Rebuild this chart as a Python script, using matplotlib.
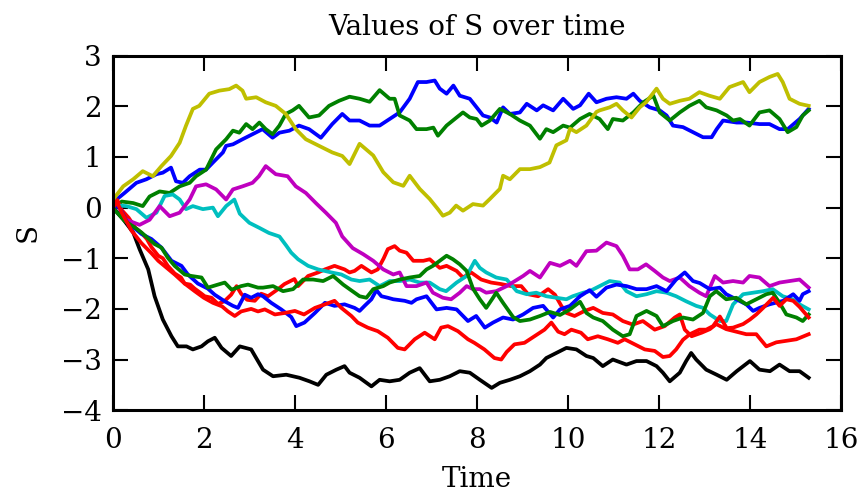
import matplotlib
matplotlib.use("Agg")
import matplotlib.pyplot as plt

# ---- data (time, S) per path ----
blue1_t = [0.0, 0.26, 0.52, 0.74, 0.96, 1.1, 1.28, 1.39, 1.54, 1.69, 1.91, 2.05, 2.2, 2.42, 2.49, 2.64, 2.85, 3.07, 3.29, 3.51, 3.66, 3.88, 4.09, 4.31, 4.57, 4.82, 5.04, 5.2, 5.42, 5.64, 5.86, 6.08, 6.3, 6.52, 6.7, 6.89, 7.07, 7.18, 7.33, 7.48, 7.62, 7.84, 7.99, 8.13, 8.28, 8.43, 8.57, 8.72, 8.94, 9.09, 9.31, 9.45, 9.67, 9.89, 10.11, 10.26, 10.45, 10.62, 10.84, 11.06, 11.28, 11.43, 11.57, 11.79, 12.01, 12.16, 12.3, 12.52, 12.74, 12.96, 13.15, 13.26, 13.4, 13.7, 13.92, 14.2, 14.42, 14.64, 14.82, 15.08, 15.28]
blue1_s = [0.1, 0.29, 0.49, 0.56, 0.66, 0.69, 0.79, 0.52, 0.49, 0.62, 0.75, 0.75, 0.89, 1.09, 1.22, 1.25, 1.35, 1.45, 1.55, 1.38, 1.48, 1.52, 1.62, 1.55, 1.38, 1.65, 1.85, 1.72, 1.72, 1.62, 1.62, 1.75, 1.88, 2.15, 2.48, 2.48, 2.51, 2.35, 2.25, 2.41, 2.21, 2.15, 1.98, 1.82, 1.78, 1.68, 1.98, 1.85, 1.88, 2.05, 1.92, 2.02, 1.92, 2.15, 1.95, 2.02, 2.25, 2.08, 2.15, 2.18, 2.15, 2.25, 2.11, 1.98, 1.92, 1.82, 1.62, 1.59, 1.49, 1.39, 1.39, 1.55, 1.72, 1.68, 1.68, 1.65, 1.65, 1.55, 1.55, 1.75, 1.95]

green1_t = [0.0, 0.2, 0.45, 0.66, 0.81, 1.03, 1.25, 1.47, 1.69, 1.83, 2.05, 2.27, 2.49, 2.64, 2.78, 2.93, 3.07, 3.22, 3.36, 3.51, 3.66, 3.8, 3.95, 4.09, 4.31, 4.53, 4.75, 4.97, 5.2, 5.42, 5.64, 5.86, 6.08, 6.19, 6.3, 6.52, 6.67, 6.89, 7.04, 7.14, 7.33, 7.55, 7.69, 7.84, 7.99, 8.1, 8.28, 8.5, 8.72, 8.94, 9.16, 9.38, 9.52, 9.67, 9.89, 10.04, 10.26, 10.47, 10.69, 10.87, 10.98, 11.2, 11.43, 11.65, 11.87, 12.01, 12.23, 12.45, 12.66, 12.88, 13.03, 13.26, 13.48, 13.62, 13.77, 13.98, 14.2, 14.42, 14.64, 14.82, 15.01, 15.15, 15.28]
green1_s = [0.0, 0.12, 0.09, 0.03, 0.22, 0.32, 0.29, 0.42, 0.49, 0.62, 0.75, 1.15, 1.35, 1.52, 1.48, 1.65, 1.55, 1.68, 1.55, 1.45, 1.62, 1.85, 1.92, 2.01, 1.78, 1.82, 2.01, 2.11, 2.19, 2.15, 2.09, 2.32, 2.15, 2.15, 1.82, 1.72, 1.55, 1.55, 1.58, 1.42, 1.62, 1.78, 1.88, 1.78, 1.75, 1.62, 1.72, 1.95, 1.85, 1.72, 1.62, 1.36, 1.55, 1.49, 1.62, 1.58, 1.75, 1.85, 1.75, 1.55, 1.75, 1.72, 1.88, 2.08, 2.21, 1.88, 1.72, 1.88, 2.01, 2.11, 1.98, 1.92, 1.82, 1.72, 1.75, 1.62, 1.88, 1.92, 1.75, 1.49, 1.59, 1.82, 1.92]

red1_t = [0.0, 0.1, 0.2, 0.35, 0.5, 0.63, 0.75, 0.85, 1.0, 1.1, 1.21, 1.36, 1.5, 1.58, 1.7, 1.8, 1.95, 2.02, 2.17, 2.31, 2.45, 2.6, 2.72, 2.82, 2.95, 3.12, 3.26, 3.41, 3.63, 3.77, 3.99, 4.07, 4.29, 4.51, 4.66, 4.87, 5.09, 5.2, 5.31, 5.46, 5.68, 5.82, 5.95, 6.04, 6.19, 6.3, 6.45, 6.6, 6.82, 6.96, 7.18, 7.33, 7.55, 7.69, 7.87, 8.09, 8.31, 8.53, 8.75, 8.97, 9.12, 9.34, 9.56, 9.71, 9.85, 9.96, 10.14, 10.36, 10.55, 10.76, 10.98, 11.2, 11.42, 11.64, 11.9, 12.12, 12.34, 12.45, 12.56, 12.71, 12.93, 13.11, 13.25, 13.47, 13.69, 13.91, 14.13, 14.35, 14.57, 14.79, 15.01, 15.28]
red1_s = [0.05, 0.15, -0.05, -0.2, -0.4, -0.5, -0.62, -0.78, -0.95, -1.0, -1.15, -1.3, -1.38, -1.5, -1.52, -1.6, -1.7, -1.75, -1.78, -1.9, -1.85, -1.72, -1.55, -1.7, -1.82, -1.84, -1.7, -1.75, -1.61, -1.51, -1.41, -1.55, -1.35, -1.28, -1.22, -1.15, -1.22, -1.28, -1.25, -1.15, -1.28, -1.22, -1.0, -0.82, -0.76, -0.85, -0.89, -1.05, -1.05, -1.02, -1.19, -1.15, -1.25, -1.38, -1.28, -1.42, -1.48, -1.51, -1.55, -1.55, -1.71, -1.75, -1.61, -1.72, -1.94, -2.08, -2.14, -2.04, -1.98, -2.08, -2.11, -2.24, -2.31, -2.24, -2.41, -2.34, -2.17, -2.11, -2.41, -2.54, -2.47, -2.4, -2.3, -2.4, -2.45, -2.5, -2.5, -2.74, -2.66, -2.63, -2.6, -2.5]

cyan_t = [0.0, 0.3, 0.52, 0.74, 0.96, 1.14, 1.32, 1.47, 1.61, 1.76, 1.98, 2.2, 2.31, 2.49, 2.67, 2.79, 3.0, 3.22, 3.43, 3.66, 3.81, 3.92, 4.07, 4.29, 4.51, 4.8, 5.02, 5.24, 5.42, 5.64, 5.86, 6.08, 6.3, 6.52, 6.74, 6.96, 7.18, 7.32, 7.55, 7.77, 7.95, 8.06, 8.2, 8.42, 8.65, 8.87, 9.09, 9.3, 9.52, 9.74, 9.96, 10.1, 10.33, 10.47, 10.69, 10.91, 11.13, 11.28, 11.5, 11.72, 11.94, 12.16, 12.37, 12.59, 12.81, 12.96, 13.11, 13.33, 13.47, 13.62, 13.84, 14.06, 14.28, 14.49, 14.71, 14.93, 15.08, 15.28]
cyan_s = [0.05, 0.03, -0.03, -0.2, -0.1, 0.23, 0.26, 0.16, -0.03, 0.03, -0.03, 0.0, -0.17, 0.03, 0.16, -0.12, -0.3, -0.4, -0.5, -0.57, -0.75, -0.89, -1.02, -1.15, -1.22, -1.28, -1.32, -1.42, -1.45, -1.42, -1.55, -1.45, -1.45, -1.42, -1.48, -1.48, -1.61, -1.65, -1.48, -1.35, -1.05, -1.19, -1.28, -1.38, -1.42, -1.65, -1.71, -1.68, -1.75, -1.78, -1.81, -1.75, -1.68, -1.65, -1.55, -1.45, -1.48, -1.65, -1.75, -1.71, -1.65, -1.68, -1.75, -1.85, -1.94, -1.98, -2.11, -2.24, -2.24, -1.91, -1.71, -1.68, -1.65, -1.61, -1.75, -1.81, -1.91, -2.01]

magenta_t = [0.0, 0.3, 0.59, 0.81, 1.03, 1.25, 1.47, 1.69, 1.83, 2.05, 2.27, 2.49, 2.64, 2.85, 3.07, 3.21, 3.36, 3.58, 3.84, 4.02, 4.24, 4.46, 4.68, 4.9, 5.04, 5.27, 5.5, 5.72, 5.94, 6.16, 6.3, 6.45, 6.67, 6.89, 7.03, 7.25, 7.43, 7.62, 7.77, 7.91, 8.06, 8.2, 8.42, 8.65, 8.83, 9.01, 9.16, 9.38, 9.6, 9.82, 10.04, 10.18, 10.4, 10.62, 10.84, 11.06, 11.2, 11.35, 11.53, 11.71, 11.9, 12.08, 12.23, 12.45, 12.66, 12.88, 13.03, 13.22, 13.4, 13.62, 13.84, 13.98, 14.2, 14.42, 14.64, 14.86, 15.08, 15.28]
magenta_s = [0.0, -0.24, -0.34, -0.24, 0.03, -0.17, -0.1, 0.16, 0.42, 0.46, 0.36, 0.16, 0.36, 0.42, 0.49, 0.62, 0.82, 0.66, 0.62, 0.42, 0.29, 0.09, -0.1, -0.3, -0.57, -0.8, -0.92, -1.05, -1.22, -1.32, -1.28, -1.55, -1.55, -1.48, -1.68, -1.78, -1.81, -1.68, -1.55, -1.61, -1.61, -1.68, -1.65, -1.55, -1.45, -1.35, -1.25, -1.38, -1.09, -1.15, -1.05, -1.15, -0.86, -0.85, -0.69, -0.76, -0.95, -1.22, -1.22, -1.12, -1.25, -1.38, -1.45, -1.38, -1.55, -1.68, -1.75, -1.35, -1.48, -1.45, -1.48, -1.35, -1.38, -1.55, -1.48, -1.45, -1.42, -1.58]

yellow_t = [0.0, 0.23, 0.45, 0.66, 0.88, 1.07, 1.28, 1.47, 1.61, 1.76, 1.9, 2.12, 2.34, 2.56, 2.71, 2.85, 2.93, 3.15, 3.36, 3.58, 3.8, 4.02, 4.24, 4.53, 4.82, 5.04, 5.2, 5.42, 5.72, 5.94, 6.16, 6.38, 6.52, 6.74, 6.96, 7.14, 7.25, 7.4, 7.54, 7.69, 7.91, 8.13, 8.28, 8.5, 8.57, 8.72, 8.94, 9.16, 9.38, 9.59, 9.74, 9.96, 10.04, 10.18, 10.4, 10.62, 10.69, 10.91, 11.06, 11.2, 11.39, 11.57, 11.71, 11.94, 12.08, 12.23, 12.45, 12.66, 12.88, 13.1, 13.33, 13.54, 13.84, 13.98, 14.2, 14.42, 14.6, 14.71, 14.86, 15.08, 15.28]
yellow_s = [0.15, 0.42, 0.56, 0.72, 0.62, 0.82, 1.02, 1.28, 1.62, 1.95, 2.01, 2.25, 2.31, 2.34, 2.41, 2.31, 2.15, 2.18, 2.08, 2.01, 1.85, 1.55, 1.35, 1.22, 1.09, 1.02, 0.86, 1.26, 1.03, 0.7, 0.5, 0.43, 0.63, 0.37, 0.17, -0.03, -0.16, -0.1, 0.04, -0.06, 0.07, 0.04, 0.17, 0.37, 0.63, 0.56, 0.76, 0.76, 0.8, 0.89, 1.23, 1.33, 1.56, 1.49, 1.62, 1.89, 1.92, 1.98, 2.05, 1.92, 1.78, 1.98, 2.08, 2.35, 2.15, 2.05, 2.11, 2.15, 2.28, 2.21, 2.15, 2.38, 2.48, 2.28, 2.48, 2.58, 2.64, 2.48, 2.15, 2.05, 2.01]

black_t = [0.0, 0.23, 0.45, 0.59, 0.78, 0.92, 1.1, 1.29, 1.43, 1.62, 1.76, 1.95, 2.09, 2.24, 2.39, 2.6, 2.79, 3.04, 3.15, 3.3, 3.52, 3.81, 4.1, 4.32, 4.51, 4.69, 4.91, 5.09, 5.2, 5.42, 5.68, 5.86, 6.08, 6.3, 6.52, 6.74, 6.96, 7.18, 7.4, 7.62, 7.84, 8.06, 8.32, 8.5, 8.72, 8.94, 9.16, 9.38, 9.52, 9.74, 9.96, 10.18, 10.4, 10.55, 10.76, 10.98, 11.28, 11.5, 11.72, 11.94, 12.08, 12.23, 12.45, 12.59, 12.7, 12.81, 13.03, 13.26, 13.48, 13.7, 13.99, 14.2, 14.43, 14.64, 14.86, 15.08, 15.28]
black_s = [0.0, -0.23, -0.49, -0.82, -1.22, -1.75, -2.21, -2.54, -2.74, -2.74, -2.8, -2.74, -2.64, -2.57, -2.77, -2.93, -2.74, -2.8, -2.97, -3.2, -3.33, -3.3, -3.36, -3.43, -3.5, -3.3, -3.2, -3.13, -3.26, -3.36, -3.53, -3.4, -3.43, -3.4, -3.26, -3.17, -3.43, -3.4, -3.33, -3.23, -3.26, -3.4, -3.56, -3.46, -3.4, -3.33, -3.23, -3.1, -2.97, -2.87, -2.77, -2.8, -2.93, -2.97, -3.13, -3.0, -3.1, -3.03, -3.03, -3.13, -3.26, -3.43, -3.26, -3.03, -2.87, -3.0, -3.2, -3.3, -3.4, -3.23, -3.03, -3.2, -3.23, -3.1, -3.23, -3.23, -3.36]

blue2_t = [0.0, 0.15, 0.34, 0.5, 0.63, 0.85, 1.07, 1.29, 1.51, 1.65, 1.87, 2.09, 2.24, 2.46, 2.64, 2.75, 2.9, 3.04, 3.19, 3.3, 3.48, 3.7, 3.92, 4.03, 4.21, 4.44, 4.66, 4.87, 5.09, 5.31, 5.42, 5.53, 5.68, 5.79, 5.9, 6.04, 6.16, 6.41, 6.56, 6.67, 6.89, 7.11, 7.33, 7.55, 7.8, 7.98, 8.17, 8.35, 8.57, 8.79, 9.01, 9.23, 9.45, 9.67, 9.82, 10.04, 10.26, 10.47, 10.62, 10.84, 11.06, 11.28, 11.5, 11.72, 11.94, 12.16, 12.37, 12.56, 12.74, 12.89, 13.11, 13.33, 13.47, 13.69, 13.91, 14.06, 14.2, 14.42, 14.72, 14.94, 15.08, 15.15, 15.28]
blue2_s = [0.05, 0.0, -0.33, -0.42, -0.52, -0.62, -0.79, -1.05, -1.15, -1.32, -1.5, -1.6, -1.72, -1.85, -1.94, -1.98, -1.72, -1.78, -1.71, -1.75, -1.88, -2.01, -2.16, -2.34, -2.27, -2.08, -1.88, -1.94, -1.91, -1.98, -2.04, -1.94, -1.81, -1.63, -1.75, -1.78, -1.81, -1.84, -1.88, -1.81, -1.75, -2.01, -1.98, -2.01, -2.24, -2.14, -2.37, -2.27, -2.17, -2.21, -2.11, -1.98, -1.94, -2.17, -2.01, -1.94, -1.75, -1.63, -1.76, -1.58, -1.52, -1.55, -1.61, -1.61, -1.55, -1.65, -1.42, -1.28, -1.45, -1.49, -1.61, -1.58, -1.71, -1.81, -1.91, -2.04, -1.98, -1.91, -1.84, -1.71, -1.84, -1.71, -1.65]

green2_t = [0.0, 0.26, 0.48, 0.63, 0.92, 1.07, 1.21, 1.36, 1.58, 1.73, 1.95, 2.09, 2.31, 2.46, 2.61, 2.82, 2.97, 3.19, 3.3, 3.52, 3.74, 3.96, 4.18, 4.4, 4.62, 4.84, 5.06, 5.2, 5.42, 5.57, 5.72, 5.94, 6.08, 6.3, 6.52, 6.74, 6.89, 7.03, 7.18, 7.33, 7.47, 7.62, 7.77, 7.91, 8.06, 8.2, 8.35, 8.42, 8.57, 8.79, 8.94, 9.16, 9.38, 9.6, 9.82, 10.04, 10.26, 10.4, 10.55, 10.76, 10.98, 11.2, 11.35, 11.5, 11.72, 11.94, 12.08, 12.3, 12.52, 12.74, 12.96, 13.11, 13.25, 13.47, 13.69, 13.91, 14.13, 14.35, 14.49, 14.64, 14.79, 15.01, 15.15, 15.28]
green2_s = [0.0, -0.26, -0.39, -0.49, -0.72, -0.79, -0.99, -1.15, -1.32, -1.35, -1.38, -1.58, -1.52, -1.48, -1.62, -1.55, -1.52, -1.58, -1.58, -1.55, -1.65, -1.61, -1.42, -1.42, -1.45, -1.35, -1.52, -1.61, -1.75, -1.78, -1.61, -1.55, -1.48, -1.42, -1.38, -1.35, -1.22, -1.15, -1.05, -0.95, -1.02, -1.12, -1.25, -1.6, -1.81, -1.98, -1.78, -1.68, -1.88, -2.16, -2.24, -2.21, -2.14, -2.06, -2.12, -2.01, -1.86, -2.08, -2.17, -2.24, -2.41, -2.54, -2.5, -2.14, -2.04, -2.14, -2.34, -2.24, -2.17, -2.21, -2.08, -1.75, -1.65, -1.81, -1.78, -1.91, -1.81, -1.71, -1.68, -1.88, -2.11, -2.17, -2.24, -2.11]

red2_t = [0.0, 0.1, 0.2, 0.41, 0.63, 0.85, 1.0, 1.2, 1.36, 1.58, 1.8, 2.0, 2.2, 2.4, 2.53, 2.68, 2.82, 3.04, 3.19, 3.34, 3.56, 3.78, 4.0, 4.2, 4.44, 4.66, 4.87, 5.02, 5.24, 5.38, 5.6, 5.82, 6.04, 6.26, 6.41, 6.63, 6.85, 7.07, 7.21, 7.36, 7.58, 7.8, 7.94, 8.16, 8.38, 8.53, 8.65, 8.82, 9.04, 9.26, 9.48, 9.63, 9.78, 9.92, 10.07, 10.28, 10.43, 10.65, 10.87, 11.09, 11.24, 11.46, 11.68, 11.9, 12.08, 12.23, 12.37, 12.52, 12.67, 12.88, 13.03, 13.18, 13.33, 13.48, 13.62, 13.84, 13.99, 14.13, 14.28, 14.5, 14.64, 14.79, 14.94, 15.08, 15.28]
red2_s = [0.0, 0.1, -0.1, -0.45, -0.7, -0.9, -1.05, -1.2, -1.32, -1.5, -1.65, -1.78, -1.88, -1.95, -2.05, -2.14, -2.05, -2.0, -2.05, -2.01, -2.11, -2.08, -2.04, -2.11, -1.98, -1.91, -1.84, -1.98, -2.14, -2.27, -2.37, -2.44, -2.57, -2.77, -2.8, -2.6, -2.47, -2.6, -2.37, -2.34, -2.44, -2.6, -2.67, -2.8, -2.97, -3.0, -2.85, -2.7, -2.67, -2.54, -2.41, -2.27, -2.45, -2.5, -2.41, -2.47, -2.6, -2.54, -2.6, -2.67, -2.6, -2.7, -2.8, -2.83, -2.95, -2.93, -2.8, -2.61, -2.5, -2.41, -2.41, -2.34, -2.15, -2.38, -2.37, -2.3, -2.21, -2.11, -1.98, -1.78, -1.94, -1.81, -1.84, -1.96, -2.17]

series = [
    (blue1_t, blue1_s, "b"),
    (green1_t, green1_s, "g"),
    (red1_t, red1_s, "r"),
    (cyan_t, cyan_s, "c"),
    (magenta_t, magenta_s, "m"),
    (yellow_t, yellow_s, "y"),
    (black_t, black_s, "k"),
    (blue2_t, blue2_s, "b"),
    (green2_t, green2_s, "g"),
    (red2_t, red2_s, "r"),
]

xticks = [0, 2, 4, 6, 8, 10, 12, 14, 16]
yticks = [-4, -3, -2, -1, 0, 1, 2, 3]

plt.rcParams["font.family"] = ["DejaVu Serif"]

fig = plt.figure(figsize=(8.59, 4.93), dpi=100)
ax = fig.add_axes([0.1312, 0.168, 0.8484, 0.719])

for t, s, c in series:
    ax.plot(t, s, color=c, linewidth=2.7, solid_joinstyle="round")

ax.set_xlim(0, 16)
ax.set_ylim(-4, 3)
ax.set_xticks(xticks)
ax.set_yticks(yticks)
ax.set_yticklabels(["\u22124", "\u22123", "\u22122", "\u22121", "0", "1", "2", "3"])
ax.tick_params(direction="in", length=11, width=1.5, top=True, right=True,
               labelsize=20)
ax.tick_params(axis="x", pad=12)
ax.tick_params(axis="y", pad=8)
for sp in ax.spines.values():
    sp.set_linewidth(2.2)

ax.set_title("Values of S over time", fontsize=20, pad=15)
ax.set_xlabel("Time", fontsize=20, labelpad=9)
ax.set_ylabel("S", fontsize=20, labelpad=14)

fig.savefig("out.png", dpi=100)
